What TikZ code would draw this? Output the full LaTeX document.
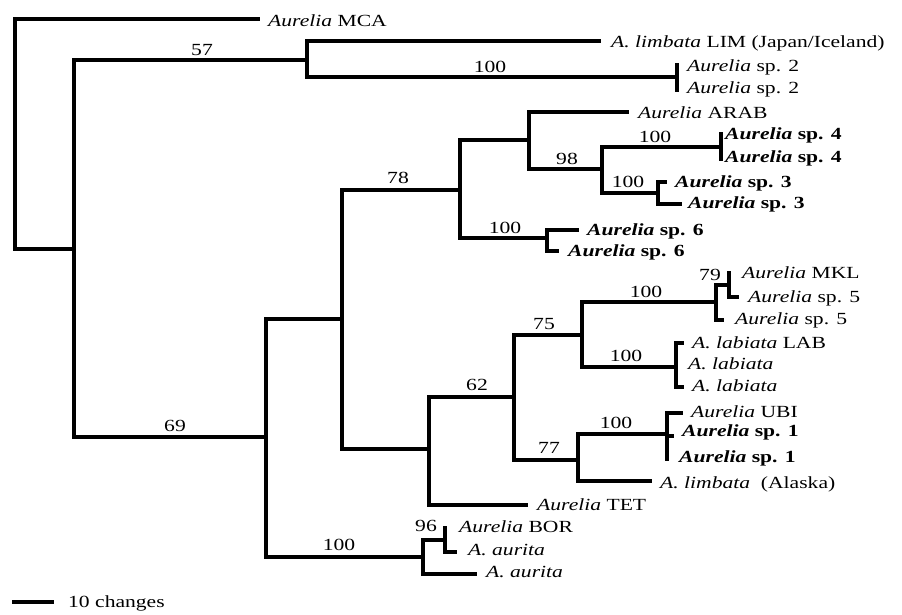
\documentclass[tikz,border=0pt]{standalone}
\usepackage{fontspec}
\usepackage{graphicx}
\setmainfont{Liberation Serif}
\newcommand{\sxt}[1]{\scalebox{1.27}[1]{#1}}
\begin{document}
\begin{tikzpicture}[x=1pt,y=-1pt,
  br/.style={line width=4.6pt, line cap=rect, line join=miter},
  lf/.style={anchor=base west, inner sep=0pt, font=\fontsize{17}{19}\selectfont},
  bs/.style={anchor=base, inner sep=0pt, font=\fontsize{17}{19}\selectfont}]
\useasboundingbox (0,0) rectangle (902,614);
% tree vertices
\coordinate (R) at (15,134);
\coordinate (MCA) at (258,19);
\coordinate (A) at (74,249);
\coordinate (N57) at (307,60);
\coordinate (LIM) at (599,41);
\coordinate (N2) at (677,77);
\coordinate (L2a) at (677,65);
\coordinate (L2b) at (677,90);
\coordinate (N69) at (266,437);
\coordinate (B) at (342,319);
\coordinate (N78) at (460,190);
\coordinate (NAR) at (529,140);
\coordinate (ARAB) at (627,112);
\coordinate (N98) at (602,169);
\coordinate (N4) at (721,147);
\coordinate (L4a) at (721,134);
\coordinate (L4b) at (721,159);
\coordinate (N3) at (658,193);
\coordinate (L3a) at (665,182);
\coordinate (L3b) at (680,204);
\coordinate (N6) at (547,238);
\coordinate (L6a) at (577,230);
\coordinate (L6b) at (557,251);
\coordinate (N62) at (429,449);
\coordinate (C) at (514,397);
\coordinate (N75) at (582,335);
\coordinate (NA5) at (716,302);
\coordinate (N79) at (729,285);
\coordinate (MKL) at (729,273);
\coordinate (L5a) at (737,297);
\coordinate (L5b) at (722,320);
\coordinate (NLAB) at (676,367);
\coordinate (LABa) at (682,343);
\coordinate (LABb) at (676,365);
\coordinate (LABc) at (682,387);
\coordinate (N77) at (578,460);
\coordinate (N1) at (667,434);
\coordinate (UBI) at (681,413);
\coordinate (L1a) at (672,436);
\coordinate (L1b) at (667,459);
\coordinate (ALA) at (650,481);
\coordinate (TET) at (526,505);
\coordinate (NBOR) at (423,557);
\coordinate (N96) at (445,540);
\coordinate (BOR) at (445,528);
\coordinate (AUa) at (455,552);
\coordinate (AUb) at (475,574);
% branches
\foreach \p/\c in {R/MCA, R/A, A/N57, A/N69, N57/LIM, N57/N2, N2/L2a, N2/L2b,
  N69/B, N69/NBOR, B/N78, B/N62, N78/NAR, N78/N6, NAR/ARAB, NAR/N98,
  N98/N4, N98/N3, N4/L4a, N4/L4b, N3/L3a, N3/L3b, N6/L6a, N6/L6b,
  N62/C, N62/TET, C/N75, C/N77, N75/NA5, N75/NLAB, NA5/N79, NA5/L5b,
  N79/MKL, N79/L5a, NLAB/LABa, NLAB/LABb, NLAB/LABc, N77/N1, N77/ALA,
  N1/UBI, N1/L1a, N1/L1b, NBOR/N96, NBOR/AUb, N96/BOR, N96/AUa}
  \draw[br] (\p) |- (\c);
% support values
\node[bs] (s57) at (202,55) {\sxt{57}};
\node[bs] (s100a) at (490,72) {\sxt{100}};
\node[bs] (s78) at (398,183) {\sxt{78}};
\node[bs] (s98) at (567,164) {\sxt{98}};
\node[bs] (s100b) at (655,142) {\sxt{100}};
\node[bs] (s100c) at (628,187) {\sxt{100}};
\node[bs] (s100d) at (505,233) {\sxt{100}};
\node[bs] (s100e) at (646,297) {\sxt{100}};
\node[bs] (s79) at (710,280) {\sxt{79}};
\node[bs] (s75) at (544,329) {\sxt{75}};
\node[bs] (s100f) at (626,361) {\sxt{100}};
\node[bs] (s62) at (477,390) {\sxt{62}};
\node[bs] (s100g) at (616,428) {\sxt{100}};
\node[bs] (s77) at (549,453) {\sxt{77}};
\node[bs] (s69) at (175,431) {\sxt{69}};
\node[bs] (s100h) at (339,550) {\sxt{100}};
\node[bs] (s96) at (426,531) {\sxt{96}};
% taxa
\node[lf] (tMCA) at (268,26) {\sxt{\textit{Aurelia} MCA}};
\node[lf] (tLIM) at (611,47) {\sxt{\textit{A. limbata} LIM (Japan/Iceland)}};
\node[lf] (t2a) at (687,71) {\sxt{\textit{Aurelia} sp. 2}};
\node[lf] (t2b) at (687,93) {\sxt{\textit{Aurelia} sp. 2}};
\node[lf] (tARAB) at (638,118) {\sxt{\textit{Aurelia} ARAB}};
\node[lf] (t4a) at (725,139) {\sxt{\textbf{\textit{Aurelia} sp. 4}}};
\node[lf] (t4b) at (725,162) {\sxt{\textbf{\textit{Aurelia} sp. 4}}};
\node[lf] (t3a) at (675,187) {\sxt{\textbf{\textit{Aurelia} sp. 3}}};
\node[lf] (t3b) at (688,208) {\sxt{\textbf{\textit{Aurelia} sp. 3}}};
\node[lf] (t6a) at (587,235) {\sxt{\textbf{\textit{Aurelia} sp. 6}}};
\node[lf] (t6b) at (568,256) {\sxt{\textbf{\textit{Aurelia} sp. 6}}};
\node[lf] (tMKL) at (742,278) {\sxt{\textit{Aurelia} MKL}};
\node[lf] (t5a) at (748,302) {\sxt{\textit{Aurelia} sp. 5}};
\node[lf] (t5b) at (735,324) {\sxt{\textit{Aurelia} sp. 5}};
\node[lf] (tLAB) at (692,348) {\sxt{\textit{A. labiata} LAB}};
\node[lf] (tlab2) at (688,369) {\sxt{\textit{A. labiata}}};
\node[lf] (tlab3) at (692,391) {\sxt{\textit{A. labiata}}};
\node[lf] (tUBI) at (691,417) {\sxt{\textit{Aurelia} UBI}};
\node[lf] (t1a) at (682,436) {\sxt{\textbf{\textit{Aurelia} sp. 1}}};
\node[lf] (t1b) at (679,462) {\sxt{\textbf{\textit{Aurelia} sp. 1}}};
\node[lf] (tALA) at (660,488) {\sxt{\textit{A. limbata}\ \ (Alaska)}};
\node[lf] (tTET) at (537,510) {\sxt{\textit{Aurelia} TET}};
\node[lf] (tBOR) at (459,532) {\sxt{\textit{Aurelia} BOR}};
\node[lf] (tAUa) at (468,555) {\sxt{\textit{A. aurita}}};
\node[lf] (tAUb) at (486,577) {\sxt{\textit{A. aurita}}};
% scale bar
\coordinate (sb1) at (12,602);
\coordinate (sb2) at (54,602);
\draw[line width=4.6pt] (sb1) -- (sb2);
\node[lf] (tsb) at (68,607) {\sxt{10 changes}};
\end{tikzpicture}
\end{document}
